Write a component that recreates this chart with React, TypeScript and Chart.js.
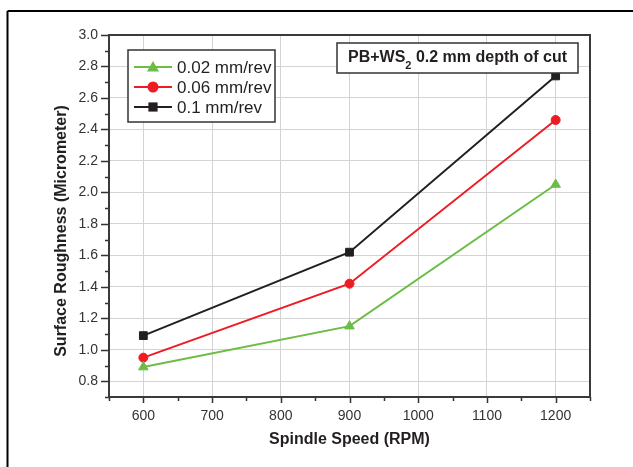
import React, { useEffect, useRef } from 'react';
import { Chart, registerables } from 'chart.js';

Chart.register(...registerables);

// ---- data ----
const spindleSpeeds = [600, 900, 1200];
const feed002 = [0.89, 1.15, 2.05];
const feed006 = [0.95, 1.42, 2.46];
const feed01 = [1.09, 1.62, 2.74];
const seriesLabels = ['0.02 mm/rev', '0.06 mm/rev', '0.1 mm/rev'];
const seriesColors = ['#6cbd45', '#ed1c24', '#231f20'];
const seriesMarkers = ['triangle', 'circle', 'rect'];
const xTitle = 'Spindle Speed (RPM)';
const yTitle = 'Surface Roughness (Micrometer)';
const noteMain = 'PB+WS';
const noteSub = '2';
const noteRest = ' 0.2 mm depth of cut';

const X_MIN = 550;
const X_MAX = 1250;
const Y_MIN = 0.7;
const Y_MAX = 3.0;

const FONT = '"Liberation Sans", Arial, sans-serif';

const xTickValues: number[] = [];
for (let v = X_MIN; v <= X_MAX; v += 50) xTickValues.push(v);
const yTickValues: number[] = [];
for (let k = 7; k <= 30; k++) yTickValues.push(k / 10);

const isMajorX = (v: number) => Math.round(v) % 100 === 0;
const isMajorY = (v: number) => {
  const k = Math.round(v * 10);
  return k >= 8 && k % 2 === 0;
};

function drawMarker(ctx: CanvasRenderingContext2D, style: string, x: number, y: number, r: number, color: string) {
  ctx.save();
  ctx.fillStyle = color;
  ctx.beginPath();
  if (style === 'triangle') {
    ctx.moveTo(x, y - r);
    ctx.lineTo(x + r * 0.866, y + r * 0.5);
    ctx.lineTo(x - r * 0.866, y + r * 0.5);
    ctx.closePath();
  } else if (style === 'circle') {
    ctx.arc(x, y, r, 0, Math.PI * 2);
  } else {
    const s = r * Math.SQRT1_2;
    ctx.rect(x - s, y - s, 2 * s, 2 * s);
  }
  ctx.fill();
  ctx.restore();
}

const decorPlugin = {
  id: 'decor',
  beforeDatasetsDraw(chart: any) {
    const { ctx, chartArea } = chart;
    const { left, right, top, bottom } = chartArea;
    const xs = chart.scales.x;
    const ys = chart.scales.y;
    ctx.save();
    ctx.strokeStyle = '#333333';
    ctx.lineWidth = 1.5;
    // tick marks
    ctx.beginPath();
    yTickValues.forEach((v) => {
      const y = Math.round(ys.getPixelForValue(v)) + 0.5;
      const len = isMajorY(v) || Math.round(v * 10) === 30 ? 8 : 4;
      ctx.moveTo(left - len, y);
      ctx.lineTo(left, y);
    });
    xTickValues.forEach((v) => {
      const x = Math.round(xs.getPixelForValue(v)) + 0.5;
      const len = isMajorX(v) ? 6 : 4;
      ctx.moveTo(x, bottom);
      ctx.lineTo(x, bottom + len);
    });
    ctx.stroke();
    // frame
    ctx.lineWidth = 2;
    ctx.strokeStyle = '#3a3a3a';
    ctx.strokeRect(left, top, right - left, bottom - top);
    ctx.restore();
  },
  afterDraw(chart: any) {
    const { ctx, chartArea } = chart;
    const { left, right } = chartArea;
    ctx.save();
    // outer page frame (top & left)
    ctx.strokeStyle = '#000';
    ctx.lineWidth = 2;
    ctx.beginPath();
    ctx.moveTo(7.5, 11);
    ctx.lineTo(633, 11);
    ctx.moveTo(7.5, 11);
    ctx.lineTo(7.5, 467);
    ctx.stroke();

    // axis titles
    ctx.fillStyle = '#231f20';
    ctx.font = `bold 16px ${FONT}`;
    ctx.textAlign = 'center';
    ctx.textBaseline = 'middle';
    ctx.fillText(xTitle, (left + right) / 2, 440);
    ctx.save();
    ctx.translate(62, 231);
    ctx.rotate(-Math.PI / 2);
    ctx.fillText(yTitle, 0, 0);
    ctx.restore();

    // legend
    const lx = 128, ly = 50, lw = 147, lh = 72;
    ctx.fillStyle = '#fff';
    ctx.fillRect(lx, ly, lw, lh);
    ctx.strokeStyle = '#333';
    ctx.lineWidth = 1.5;
    ctx.strokeRect(lx, ly, lw, lh);
    const rowsY = [67, 87, 107];
    const markerR = [7, 5.5, 6.5];
    seriesLabels.forEach((label, i) => {
      const y = rowsY[i];
      ctx.strokeStyle = seriesColors[i];
      ctx.lineWidth = 2;
      ctx.beginPath();
      ctx.moveTo(134, y);
      ctx.lineTo(172, y);
      ctx.stroke();
      drawMarker(ctx, seriesMarkers[i], 153, y + (seriesMarkers[i] === 'triangle' ? 1 : 0), markerR[i], seriesColors[i]);
      ctx.fillStyle = '#231f20';
      ctx.font = `17px ${FONT}`;
      ctx.textAlign = 'left';
      ctx.textBaseline = 'middle';
      ctx.fillText(label, 177, y + 1);
    });

    // annotation box
    const ax = 337, ay = 43, aw = 241, ah = 30;
    ctx.fillStyle = '#fff';
    ctx.fillRect(ax, ay, aw, ah);
    ctx.strokeStyle = '#333';
    ctx.lineWidth = 1.5;
    ctx.strokeRect(ax, ay, aw, ah);
    ctx.fillStyle = '#231f20';
    ctx.textAlign = 'left';
    ctx.textBaseline = 'middle';
    const mainFont = `bold 16px ${FONT}`;
    const subFont = `bold 11px ${FONT}`;
    ctx.font = mainFont;
    const w1 = ctx.measureText(noteMain).width;
    const w3 = ctx.measureText(noteRest).width;
    ctx.font = subFont;
    const w2 = ctx.measureText(noteSub).width;
    const total = w1 + w2 + w3;
    let tx = ax + (aw - total) / 2;
    const ty = ay + ah / 2;
    ctx.font = mainFont;
    ctx.fillText(noteMain, tx, ty);
    tx += w1;
    ctx.font = subFont;
    ctx.fillText(noteSub, tx, ty + 8);
    tx += w2;
    ctx.font = mainFont;
    ctx.fillText(noteRest, tx, ty);
    ctx.restore();
  },
};

export default function App() {
  const canvasRef = useRef<HTMLCanvasElement | null>(null);

  useEffect(() => {
    const canvas = canvasRef.current;
    if (!canvas) return;
    const mk = (i: number, values: number[], radius: number) => ({
      label: seriesLabels[i],
      data: spindleSpeeds.map((x, j) => ({ x, y: values[j] })),
      borderColor: seriesColors[i],
      backgroundColor: seriesColors[i],
      pointBackgroundColor: seriesColors[i],
      pointBorderColor: seriesColors[i],
      pointBorderWidth: 1,
      pointStyle: seriesMarkers[i],
      pointRadius: radius,
      borderWidth: 2,
      tension: 0,
      fill: false,
    });
    const chart = new Chart(canvas, {
      type: 'line',
      data: {
        datasets: [mk(0, feed002, 5.5), mk(1, feed006, 4.5), mk(2, feed01, 5.5)],
      },
      plugins: [decorPlugin],
      options: {
        responsive: false,
        animation: false,
        devicePixelRatio: 1,
        layout: { padding: { left: 0, top: 35, right: 43, bottom: 0 } },
        plugins: {
          legend: { display: false },
          tooltip: { enabled: false },
          title: { display: false },
        },
        scales: {
          x: {
            type: 'linear',
            min: X_MIN,
            max: X_MAX,
            afterBuildTicks: (scale: any) => {
              scale.ticks = xTickValues.map((v) => ({ value: v }));
            },
            afterFit: (scale: any) => {
              scale.height = 70;
            },
            ticks: {
              autoSkip: false,
              maxRotation: 0,
              padding: 11,
              color: '#333333',
              font: { family: FONT, size: 14 },
              callback: (v: any) => (isMajorX(Number(v)) ? String(Math.round(Number(v))) : ''),
            },
            grid: {
              drawTicks: false,
              lineWidth: 1,
              color: (c: any) => (c.tick && isMajorX(c.tick.value) ? '#d3d3d3' : 'rgba(0,0,0,0)'),
            },
            border: { display: false },
          },
          y: {
            type: 'linear',
            min: Y_MIN,
            max: Y_MAX,
            afterBuildTicks: (scale: any) => {
              scale.ticks = yTickValues.map((v) => ({ value: v }));
            },
            afterFit: (scale: any) => {
              scale.width = 109;
            },
            ticks: {
              autoSkip: false,
              padding: 11,
              color: '#333333',
              font: { family: FONT, size: 14 },
              callback: (v: any) => (isMajorY(Number(v)) ? (Math.round(Number(v) * 10) / 10).toFixed(1) : ''),
            },
            grid: {
              drawTicks: false,
              lineWidth: 1,
              color: (c: any) => (c.tick && isMajorY(c.tick.value) ? '#d3d3d3' : 'rgba(0,0,0,0)'),
            },
            border: { display: false },
          },
        },
      },
    } as any);
    return () => chart.destroy();
  }, []);

  return (
    <div style={{ position: 'absolute', left: 0, top: 0, width: 633, height: 467, background: '#fff' }}>
      <canvas ref={canvasRef} width={633} height={467} style={{ width: 633, height: 467, display: 'block' }} />
    </div>
  );
}
